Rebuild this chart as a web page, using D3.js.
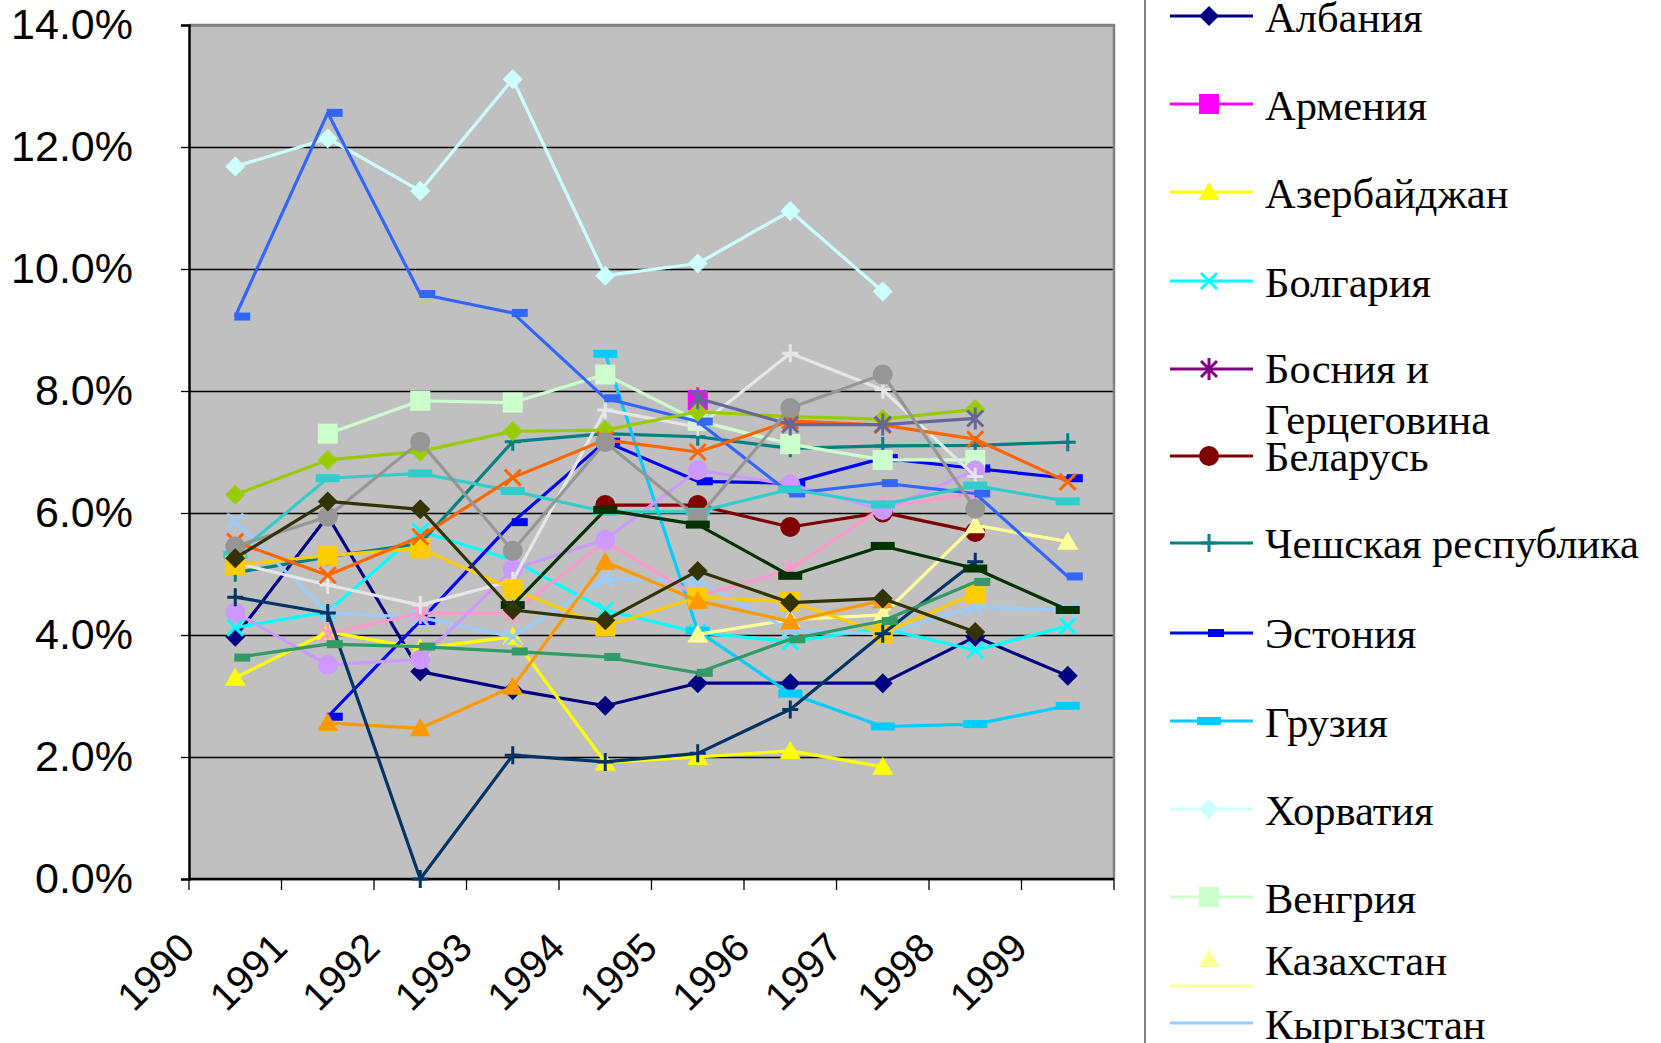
<!DOCTYPE html>
<html>
<head>
<meta charset="utf-8">
<script src="https://cdn.jsdelivr.net/npm/d3@7"></script>
<style>
body { margin: 0; background: #fff; }
</style>
</head>
<body>
<svg width="1661" height="1043"></svg>
<script>
'use strict';

//..........Data................
const years = ['1990', '1991', '1992', '1993', '1994', '1995', '1996', '1997', '1998', '1999'];
const yTicks = [0, 2, 4, 6, 8, 10, 12, 14];

const countries = ['Албания', 'Армения', 'Азербайджан', 'Болгария', 'Босния и Герцеговина', 'Беларусь',
  'Чешская республика', 'Эстония', 'Грузия', 'Хорватия', 'Венгрия', 'Казахстан', 'Кыргызстан',
  'Литва', 'Латвия', 'Молдова', 'Македония', 'Монголия', 'Польша', 'Румыния', 'Россия',
  'Словакия', 'Словения', 'Таджикистан', 'Туркменистан', 'Украина', 'Узбекистан', 'Югославия'];

const colors = ['#000080', '#ff00ff', '#ffff00', '#00ffff', '#800080', '#800000', '#008080', '#0000ff',
  '#00ccff', '#ccffff', '#ccffcc', '#ffff99', '#99ccff', '#ff99cc', '#cc99ff', '#e6e6e6',
  '#3366ff', '#33cccc', '#99cc00', '#ffcc00', '#ff9900', '#ff6600', '#666699', '#969696',
  '#003366', '#339966', '#003300', '#333300'];

const markers = ['diamond', 'square', 'triangle', 'x', 'star', 'circle', 'plus', 'dot', 'dash'];

// values in %
const albania      = [3.97, 5.95, 3.40, 3.10, 2.84, 3.21, 3.21, 3.21, 3.97, 3.33];
const armenia      = [null, null, null, null, null, 7.85, null, null, null, null];
const azerbaijan   = [3.30, 4.05, 3.78, 3.97, 1.91, 2.00, 2.10, 1.84, null, null];
const bulgaria     = [4.12, 4.38, 5.70, 5.23, 4.41, 4.04, 3.89, 4.11, 3.75, 4.15];
const bosnia       = [null, null, null, null, null, null, null, null, null, null];
const belarus      = [null, null, null, null, 6.13, 6.13, 5.77, 6.01, 5.69, null];
const czech        = [5.02, 5.28, 5.50, 7.17, 7.30, 7.25, 7.06, 7.10, 7.11, 7.16];
const estonia      = [null, 2.66, 4.23, 5.85, 7.17, 6.52, 6.49, 6.90, 6.73, 6.57];
const georgia      = [null, null, null, null, 8.61, 4.07, 3.04, 2.50, 2.54, 2.84];
const croatia      = [11.68, 12.14, 11.28, 13.11, 9.89, 10.09, 10.95, 9.63, null, null];
const hungary      = [null, 7.30, 7.84, 7.81, 8.27, 7.51, 7.13, 6.87, 6.87, null];
const kazakhstan   = [null, null, null, null, null, 4.01, 4.25, 4.33, 5.80, 5.53];
const kyrgyzstan   = [5.86, 4.36, 4.29, 3.97, 4.92, 4.88, 4.08, 4.02, 4.46, 4.41];
const lithuania    = [null, 4.02, 4.36, 4.36, 5.53, 4.63, 5.07, 6.10, 6.32, null];
const latvia       = [4.37, 3.51, 3.60, 5.08, 5.56, 6.70, 6.47, 6.05, 6.70, null];
const moldova      = [5.18, 4.82, 4.49, 4.89, 7.69, 7.41, 8.62, 8.02, 6.60, null];
const macedonia    = [9.22, 12.56, 9.59, 9.28, 7.88, 7.50, 6.32, 6.49, 6.32, 4.96];
const mongolia     = [5.31, 6.57, 6.65, 6.36, 6.02, 6.02, 6.39, 6.14, 6.45, 6.19];
const poland       = [6.30, 6.87, 7.01, 7.34, 7.36, 7.66, 7.58, 7.54, 7.70, null];
const romania      = [5.15, 5.30, 5.42, 4.75, 4.14, 4.62, 4.55, 4.03, 4.68, null];
const russia       = [null, 2.56, 2.47, 3.15, 5.20, 4.56, 4.22, 4.57, null, null];
const slovakia     = [5.53, 4.98, 5.61, 6.58, 7.20, 7.00, 7.51, 7.44, 7.21, 6.51];
const slovenia     = [null, null, null, null, null, 7.88, 7.45, 7.45, 7.55, null];
const tajikistan   = [5.45, 5.94, 7.17, 5.38, 7.16, 5.92, 7.72, 8.27, 6.07, null];
const turkmenistan = [4.62, 4.36, 0.00, 2.03, 1.92, 2.06, 2.78, 4.02, 5.20, null];
const ukraine      = [3.63, 3.85, 3.81, 3.73, 3.64, 3.38, 3.93, 4.23, 4.87, null];
const uzbekistan   = [null, null, null, 4.49, 6.05, 5.81, 4.97, 5.46, 5.09, 4.41];
const yugoslavia   = [5.26, 6.19, 6.06, 4.41, 4.24, 5.05, 4.53, 4.60, 4.05, null];

const series = [albania, armenia, azerbaijan, bulgaria, bosnia, belarus, czech, estonia, georgia,
  croatia, hungary, kazakhstan, kyrgyzstan, lithuania, latvia, moldova, macedonia, mongolia,
  poland, romania, russia, slovakia, slovenia, tajikistan, turkmenistan, ukraine, uzbekistan, yugoslavia];

//..........Layout................
const svg = d3.select('svg');
const plot = { left: 189, right: 1114, top: 25, bottom: 879 };
const sansFont = '"Liberation Sans", Arial, sans-serif';
const serifFont = '"Liberation Serif", "Times New Roman", serif';

const x = d3.scaleBand().domain(years).range([plot.left, plot.right]);
const y = d3.scaleLinear().domain([0, 14]).range([plot.bottom, plot.top]);
const cx = i => x(years[i]) + x.bandwidth() / 2;

// legend rows: line y, marker y, text baselines (visible part only)
const legendRows = [
  { line: 16, text: [32] },
  { line: 104, text: [120] },
  { line: 192, text: [208] },
  { line: 281, text: [297] },
  { line: 369, text: [383, 434], lines: ['Босния и', 'Герцеговина'] },
  { line: 456, text: [471] },
  { line: 543, text: [558] },
  { line: 633, text: [648] },
  { line: 721, text: [737] },
  { line: 809, text: [825] },
  { line: 897, text: [913] },
  { line: 986, marker: 959, text: [975] },
  { line: 1023, marker: null, text: [1039] }
];

//..........Markers................
function drawMarker(g, type, color, px, py) {
  const s = g.append('g').attr('transform', `translate(${px} ${py})`);
  if (type === 'diamond') {
    s.append('path').attr('d', 'M0,-10L10,0L0,10L-10,0Z').attr('fill', color);
  } else if (type === 'square') {
    s.append('rect').attr('x', -10).attr('y', -10).attr('width', 20).attr('height', 20).attr('fill', color);
  } else if (type === 'triangle') {
    s.append('path').attr('d', 'M0,-10L10.5,8L-10.5,8Z').attr('fill', color);
  } else if (type === 'circle') {
    s.append('circle').attr('r', 10).attr('fill', color);
  } else if (type === 'x') {
    s.append('path').attr('d', 'M-8,-8L8,8M-8,8L8,-8').attr('stroke', color).attr('stroke-width', 3);
  } else if (type === 'star') {
    s.append('path').attr('d', 'M-8,-8L8,8M-8,8L8,-8M0,-11L0,11').attr('stroke', color).attr('stroke-width', 3);
  } else if (type === 'plus') {
    s.append('path').attr('d', 'M-8,0L8,0M0,-9L0,9').attr('stroke', color).attr('stroke-width', 3);
  } else if (type === 'dot') {
    s.append('rect').attr('x', -1).attr('y', -4).attr('width', 16).attr('height', 8).attr('fill', color);
  } else if (type === 'dash') {
    s.append('rect').attr('x', -12).attr('y', -4).attr('width', 24).attr('height', 8).attr('fill', color);
  }
}

//..........Plot area................
svg.append('rect')
  .attr('x', plot.left).attr('y', plot.top)
  .attr('width', plot.right - plot.left).attr('height', plot.bottom - plot.top)
  .attr('fill', '#c0c0c0');

// grid lines
svg.append('g')
  .attr('transform', `translate(${plot.left},0)`)
  .call(d3.axisLeft(y).tickValues(yTicks).tickSize(-(plot.right - plot.left)).tickFormat(''))
  .call(g => g.select('.domain').remove())
  .selectAll('line').attr('stroke', '#000').attr('stroke-width', 1.3);

// top / right border
svg.append('path')
  .attr('d', `M${plot.left},${plot.top}H${plot.right}V${plot.bottom}`)
  .attr('fill', 'none').attr('stroke', '#808080').attr('stroke-width', 2.5);

// y axis
const yAxis = svg.append('g')
  .attr('transform', `translate(${plot.left},0)`)
  .call(d3.axisLeft(y).tickValues(yTicks).tickSize(8).tickPadding(48)
    .tickFormat(d => d.toFixed(1) + '%'));
yAxis.select('.domain').attr('stroke', '#000').attr('stroke-width', 2.5);
yAxis.selectAll('line').attr('stroke', '#000').attr('stroke-width', 1.3);
yAxis.selectAll('text')
  .attr('font-family', sansFont).attr('font-size', 43).attr('fill', '#000');

// x axis
const xAxis = svg.append('g');
xAxis.append('line')
  .attr('x1', plot.left).attr('x2', plot.right)
  .attr('y1', plot.bottom).attr('y2', plot.bottom)
  .attr('stroke', '#000').attr('stroke-width', 2.5);
xAxis.selectAll('line.tick')
  .data(years.map(d => x(d)).concat([plot.right]))
  .join('line').attr('class', 'tick')
  .attr('x1', d => d).attr('x2', d => d)
  .attr('y1', plot.bottom).attr('y2', plot.bottom + 11)
  .attr('stroke', '#000').attr('stroke-width', 1.3);
xAxis.selectAll('text')
  .data(years)
  .join('text')
  .attr('transform', d => `translate(${x(d) + 8} 950) rotate(-45)`)
  .attr('text-anchor', 'end')
  .attr('font-family', sansFont).attr('font-size', 40).attr('fill', '#000')
  .text(d => d);

//..........Series................
const line = d3.line()
  .defined(d => d != null)
  .x(d => cx(d.i))
  .y(d => y(d.v));

const seriesGroup = svg.append('g');
series.forEach((vals, k) => {
  const color = colors[k];
  const marker = markers[k % markers.length];
  const pts = vals.map((v, i) => (v == null ? null : { i: i, v: v }));
  const g = seriesGroup.append('g');
  g.append('path')
    .attr('d', line(pts))
    .attr('fill', 'none')
    .attr('stroke', color)
    .attr('stroke-width', 3.2)
    .attr('stroke-linejoin', 'round');
  pts.filter(p => p).forEach(p => drawMarker(g, marker, color, cx(p.i), y(p.v)));
});

//..........Legend................
const legend = svg.append('g');
legend.append('line')
  .attr('x1', 1145).attr('x2', 1145).attr('y1', 0).attr('y2', 1043)
  .attr('stroke', '#000').attr('stroke-width', 1);

legendRows.forEach((row, k) => {
  const color = colors[k];
  legend.append('line')
    .attr('x1', 1170).attr('x2', 1253).attr('y1', row.line).attr('y2', row.line)
    .attr('stroke', color).attr('stroke-width', 3.2);
  const my = row.marker === undefined ? row.line : row.marker;
  if (my != null) drawMarker(legend, markers[k % markers.length], color, 1209, my);
  const lines = row.lines || [countries[k]];
  lines.forEach((t, j) => {
    legend.append('text')
      .attr('x', 1265).attr('y', row.text[j])
      .attr('font-family', serifFont).attr('font-size', 42.5).attr('fill', '#000')
      .text(t);
  });
});
</script>
</body>
</html>
